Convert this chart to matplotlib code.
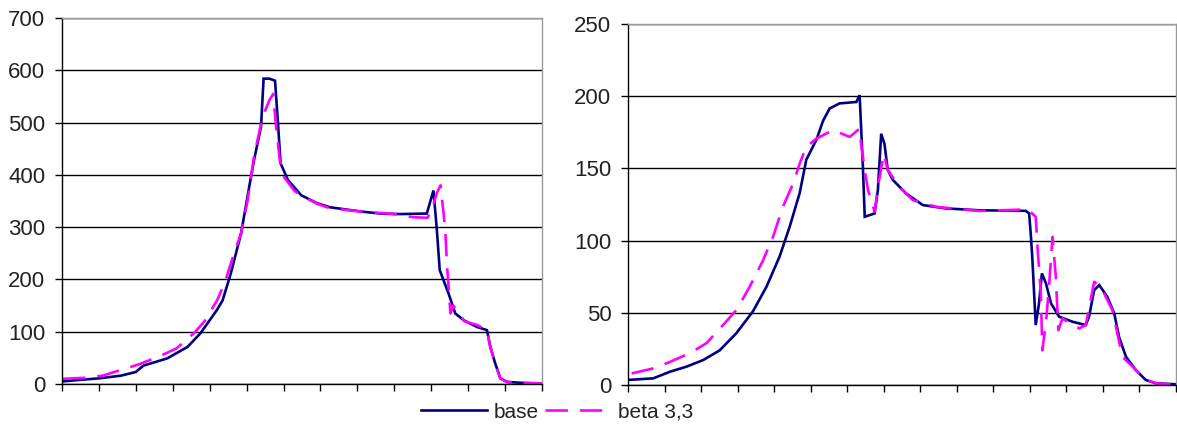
import matplotlib
matplotlib.use("Agg")
import matplotlib.pyplot as plt

plt.rcParams['font.family'] = ['Liberation Sans', 'DejaVu Sans']

# Left panel: position along the category axis (in tick units) and values
left_base_x = [0, 1.03, 1.6, 2.0, 2.2, 2.85, 3.4, 3.75, 4.0, 4.2, 4.35, 4.57, 4.85, 5.07, 5.2, 5.39,
               5.46, 5.62, 5.77, 5.85, 5.92, 6.12, 6.48, 6.9, 7.26, 8.08, 8.62, 9.16, 9.88,
               10.06, 10.15, 10.23, 10.33, 10.47, 10.65, 10.88, 11.24, 11.51, 11.6, 11.73,
               11.87, 12.05, 12.5, 13]
left_base_y = [5, 11, 16, 23, 35, 49, 71, 97, 122, 142, 160, 211, 288, 377, 428, 492,
               584, 584, 580, 498, 422, 390, 361, 346, 338, 330, 326, 325, 326,
               370, 297, 218, 199, 173, 135, 122, 109, 103, 71, 40,
               11, 4, 2, 1]

left_beta_x = [0.03, 0.66, 1.1, 1.7, 2.1, 2.7, 3.1, 3.57, 3.85, 4.2, 4.4, 4.66, 4.85, 5.03,
               5.2, 5.43, 5.62, 5.72, 5.8, 5.9, 6.02, 6.3, 6.48, 6.9, 7.26, 8.08, 9.0, 9.5, 9.9,
               10.0, 10.15, 10.25, 10.33, 10.38, 10.43, 10.47, 10.52, 10.6, 10.9, 11.24,
               11.51, 11.6, 11.73, 11.87, 12.05, 12.5, 13]
left_beta_y = [10, 12, 16, 29, 38, 55, 68, 97, 119, 160, 192, 250, 288, 352,
               435, 511, 543, 555, 491, 427, 395, 369, 361, 345, 336, 330, 325, 319, 318,
               330, 365, 380, 329, 294, 224, 186, 135, 150, 120, 113,
               103, 71, 40, 11, 4, 2, 1]

# Right panel
right_base_x = [0, 0.69, 1.15, 1.6, 2.06, 2.51, 2.97, 3.42, 3.79, 4.15, 4.43, 4.7, 4.88,
                5.16, 5.34, 5.52, 5.79, 6.25, 6.34, 6.38, 6.43, 6.48, 6.75, 6.84, 6.93,
                7.02, 7.11, 7.25, 7.61, 8.07, 8.7, 9.6, 10.89, 10.98, 11.03, 11.07, 11.16,
                11.25, 11.33, 11.44, 11.58, 11.8, 12.17, 12.53, 12.62, 12.76, 12.9, 13.12,
                13.31, 13.44, 13.63, 13.9, 14.17, 14.45, 15]
right_base_y = [3.5, 4.6, 9.2, 12.7, 17.3, 24, 36, 51, 68, 89, 110, 133, 156,
                170, 183, 191.5, 195, 196, 200.7, 178.8, 151, 116.5, 118.8, 135, 174,
                167, 149, 142, 132.7, 124.6, 122.3, 121, 120.6, 118.8, 102.6, 86.5, 41.5,
                56.5, 77.3, 70.4, 56.5, 47.3, 43.8, 41.5, 47.3, 65.7, 69.2, 61.1,
                49.6, 33.4, 19.6, 10.4, 3.5, 1.2, 0.5]

right_beta_x = [0.1, 0.69, 1.15, 1.69, 2.15, 2.6, 2.97, 3.33, 3.7, 3.97, 4.24, 4.52, 4.7,
                4.88, 5.16, 5.61, 6.07, 6.34, 6.38, 6.48, 6.57, 6.75, 6.84, 7.0, 7.11,
                7.43, 7.8, 8.43, 9.62, 10.94, 11.16, 11.21, 11.3, 11.34, 11.44, 11.53,
                11.62, 11.71, 11.78, 11.89, 12.35, 12.53, 12.76, 12.94, 13.26, 13.53,
                13.81, 14.17, 14.5, 15]
right_beta_y = [8, 11.5, 16, 22, 29, 41.5, 52, 68, 86.5, 102.6, 123.4, 139.5, 153.4,
                165, 170.7, 176.5, 171.8, 177.6, 167, 149, 135, 120, 137, 160, 149,
                137, 128, 123.4, 120.5, 121.6, 116.5, 95, 63.5, 24, 42.7, 70.4,
                102.6, 75, 38, 46, 39.2, 41.5, 71.5, 68, 51.9, 19.6,
                12.7, 3.5, 1, 0.3]

series_names = ["base", "beta 3,3"]
left_yticks = [0, 100, 200, 300, 400, 500, 600, 700]
right_yticks = [0, 50, 100, 150, 200, 250]

W, H = 1177, 426
fig = plt.figure(figsize=(W / 100, H / 100), dpi=100)

def make_axes(l, r, t, b):
    return fig.add_axes([l / W, 1 - b / H, (r - l) / W, (b - t) / H])

ax1 = make_axes(62, 542, 18, 384)
ax2 = make_axes(628, 1176, 24, 385)

base_kw = dict(color="#000080", lw=1.9, solid_joinstyle="miter")
beta_kw = dict(color="#FF00FF", lw=1.9, dashes=(8.5, 4.5))

for ax, bx, by, mx, my, yt, nt in [
    (ax1, left_base_x, left_base_y, left_beta_x, left_beta_y, left_yticks, 13),
    (ax2, right_base_x, right_base_y, right_beta_x, right_beta_y, right_yticks, 15),
]:
    ax.plot(bx, by, label=series_names[0], **base_kw)
    ax.plot(mx, my, label=series_names[1], **beta_kw)
    ax.set_xlim(0, nt)
    ax.set_ylim(yt[0], yt[-1])
    ax.set_yticks(yt)
    ax.set_xticks(range(nt + 1))
    ax.set_xticklabels([])
    ax.tick_params(axis="x", direction="out", length=5, width=1, color="black")
    ax.tick_params(axis="y", direction="out", length=5, width=1, color="black",
                   labelsize=16, pad=7, labelcolor="#222222")
    ax.grid(axis="y", color="black", lw=1)
    ax.set_axisbelow(True)
    for s in ("left", "bottom"):
        ax.spines[s].set_color("black")
        ax.spines[s].set_linewidth(1)
    for s in ("top", "right"):
        ax.spines[s].set_color("#999999")
        ax.spines[s].set_linewidth(1)

handles, labels = ax1.get_legend_handles_labels()
fig.legend(handles, labels, loc="center", bbox_to_anchor=(557 / W, 1 - 412 / H),
           ncol=2, frameon=False, fontsize=15, handlelength=3.2,
           handletextpad=0.3, columnspacing=0.3, labelcolor="#222222")

fig.savefig("out.png", dpi=100)
